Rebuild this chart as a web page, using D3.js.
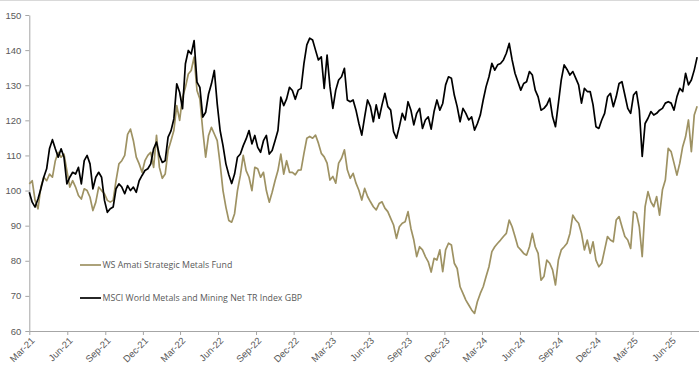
<!DOCTYPE html>
<html>
<head>
<meta charset="utf-8">
<script src="https://cdn.jsdelivr.net/npm/d3@7"></script>
<style>
  body { margin: 0; background: #fff; }
  svg { display: block; }
</style>
</head>
<body>
<svg id="chart" width="699" height="367"></svg>
<script>
// Weekly rebased performance, starting 1 March 2021 (=100)
const firstWeek = "2021-03-01";
const seriesNames = ["WS Amati Strategic Metals Fund", "MSCI World Metals and Mining Net TR Index GBP"];
const seriesColors = ["#9e9263", "#000000"];

const fundValues = [
  101.9, 102.8, 97.2, 94.8, 101, 103.8, 102.8, 104.7, 103.8, 108.5,
  110.9, 109.5, 110.4, 105.7, 101, 102.8, 101, 98.6, 97.6, 100.5,
  100, 98.1, 94.3, 96.7, 101, 100, 99.1, 97.2, 96.7, 97.2,
  102.8, 107.6, 108.5, 110, 116, 117.5, 114.2, 109.5, 107.6, 105.2,
  108.5, 110, 110.9, 106.6, 115.7, 106.6, 103.5, 104.7, 111.4, 114.2,
  117.1, 124.2, 120, 126.6, 129.4, 133.2, 134.2, 138, 128.5, 126.1,
  117.1, 109.5, 115.7, 118, 116.1, 114.2, 107.6, 100, 95.3, 91.5,
  91, 93.4, 100, 104.3, 110, 105.7, 103.8, 100, 106.6, 106.2,
  103.8, 105.2, 100, 96.7, 99.5, 102.8, 105.7, 110.4, 104.7, 108.5,
  105.2, 105.2, 104.5, 105.8, 105.9, 110.6, 114.9, 115.4, 114.9, 115.8,
  113.5, 110.6, 109.6, 107.8, 103, 104, 102.1, 107.8, 109.2, 111.6,
  105.9, 103.5, 104.9, 102.1, 100.1, 97.3, 100.6, 98.3, 96.8, 95.4,
  94.5, 96.3, 96.8, 95, 94, 92.1, 90.2, 86.4, 89.7, 90.7,
  91.1, 94, 89.2, 85.9, 81.2, 84, 83.1, 81.2, 79.7, 76.8,
  80.7, 80.2, 83.1, 76.9, 83.1, 85, 84.5, 79.3, 77.8, 72.6,
  70.7, 68.8, 67.4, 66, 65, 68.4, 70.7, 72.6, 75.5, 78.3,
  82.6, 84, 85, 85.9, 86.9, 87.8, 91.6, 89.7, 86.9, 84,
  83.1, 82.1, 81.6, 84, 87.8, 84, 82.1, 74.5, 75.5, 80.2,
  79.3, 77.4, 73.1, 80.2, 83.1, 84, 85, 87.8, 93, 91.6,
  90.7, 87.8, 83.1, 85.9, 82.1, 85.4, 80.2, 78.3, 79.3, 83.1,
  86.9, 85.9, 85.4, 91.6, 92.6, 89.7, 86.9, 85.9, 83.5, 94,
  93.5, 89.7, 81.2, 95.4, 99.7, 96.8, 95.4, 98.3, 93, 100.2,
  103, 112, 111.1, 107.8, 104.4, 107.8, 112.5, 115.3, 120.1, 111.1,
  121.5, 124
];

const indexValues = [
  99.5, 96.7, 95.3, 97.6, 100.5, 103.8, 106.2, 112, 114.5, 111.9,
  109.5, 111.9, 109.5, 101.9, 103.8, 105.2, 104.7, 106.6, 101.9, 108.5,
  110, 107.6, 100.5, 103.8, 105.2, 103.8, 97.2, 93.8, 94.8, 95.3,
  100.5, 101.9, 101, 99.1, 101.4, 100, 101, 99.5, 102.8, 104.3,
  105.7, 106.2, 107.6, 111.9, 113.8, 110, 108, 108.5, 115.2, 117,
  120.4, 130.4, 128, 123.3, 136.1, 139.9, 138.9, 142.7, 130.9, 129.4,
  120.9, 122.3, 127.5, 130.4, 134.2, 124.7, 117.1, 112.8, 107.6, 104.5,
  102, 104.7, 109.5, 110.4, 112.8, 114.7, 117.1, 113.3, 115.7, 112.3,
  110.9, 114.2, 115.7, 110.4, 111.4, 114.2, 117.1, 126.6, 124.2, 126.1,
  129.4, 128.5, 126, 128.6, 129.1, 136.2, 141.5, 143.4, 142.9, 140,
  137.2, 138.1, 129.1, 138.6, 129.6, 123.4, 128.6, 131.5, 132.4, 134.8,
  125.8, 125.3, 125.8, 122.9, 119.1, 115.8, 121, 125.8, 123.9, 119.6,
  124.4, 120.6, 124.4, 127.7, 123.9, 122.9, 116.8, 114.9, 118.2, 122,
  120.1, 125.3, 122.9, 118.7, 122, 123.4, 117.7, 120.1, 121, 117.5,
  122.5, 125.8, 122.9, 124.8, 130.1, 132.4, 132, 127.2, 123.9, 119.6,
  123.4, 122, 120.1, 121, 117.2, 119.1, 121.5, 125.8, 129.6, 132.4,
  136.2, 134.3, 135.8, 136.2, 137.2, 139.1, 141.9, 137.2, 133.4, 131,
  128.6, 130.5, 131, 133.9, 132.9, 128.6, 126.7, 122.9, 123.4, 124.4,
  126.3, 121, 118.2, 124.8, 131.5, 135.8, 134.5, 132.9, 133.9, 132,
  130.1, 124.9, 129.1, 128.2, 128.2, 124.4, 118.2, 117.7, 120.1, 122,
  126.7, 127.7, 123.9, 126.7, 130.5, 131, 127.2, 123.4, 122, 127.2,
  128.2, 122.9, 109.7, 119.1, 120.6, 122.5, 121.5, 122, 122.9, 123.4,
  124.9, 125.3, 124.9, 122.9, 126.7, 129.1, 128.2, 133.4, 130.1, 131.5,
  134.3, 138
];

const yTicks = [60, 70, 80, 90, 100, 110, 120, 130, 140, 150];
const xTickLabels = ["Mar-21", "Jun-21", "Sep-21", "Dec-21", "Mar-22", "Jun-22", "Sep-22", "Dec-22",
  "Mar-23", "Jun-23", "Sep-23", "Dec-23", "Mar-24", "Jun-24", "Sep-24", "Dec-24", "Mar-25", "Jun-25"];

const W = 699, H = 367;
const svg = d3.select("#chart");

const parseTick = d3.timeParse("%b-%y");
const start = d3.timeParse("%Y-%m-%d")(firstWeek);
const weekDate = i => d3.timeDay.offset(start, 7 * i);

const x = d3.scaleTime()
  .domain([parseTick("Mar-21"), parseTick("Sep-25")])
  .range([29.3, 708.7]);
const y = d3.scaleLinear().domain([60, 150]).range([331, 15]);

// thin frame line along the top
svg.append("rect").attr("x", 0).attr("y", 0).attr("width", W).attr("height", 1).attr("fill", "#d9d9d9");

const axisColor = "#a6a6a6";
const labelColor = "#595959";
const axisFont = "'Liberation Sans', Arial, sans-serif";

// y axis
const gy = svg.append("g")
  .attr("transform", "translate(29.3,0)")
  .call(d3.axisLeft(y).tickValues(yTicks).tickSize(4).tickSizeOuter(0).tickPadding(4));
gy.select(".domain").attr("stroke", axisColor);
gy.selectAll(".tick line").attr("stroke", axisColor);
gy.selectAll(".tick text").attr("fill", labelColor).style("font-family", axisFont).style("font-size", "9.5px");

// x axis
const gx = svg.append("g")
  .attr("transform", "translate(0,331)")
  .call(d3.axisBottom(x).tickValues(xTickLabels.map(parseTick)).tickFormat(d3.timeFormat("%b-%y"))
    .tickSize(4).tickSizeOuter(0));
gx.select(".domain").attr("stroke", axisColor);
gx.selectAll(".tick line").attr("stroke", axisColor);
gx.selectAll(".tick text")
  .attr("fill", labelColor)
  .style("font-family", axisFont).style("font-size", "9.5px")
  .attr("text-anchor", "end")
  .attr("x", 0).attr("y", 0).attr("dy", "0.35em")
  .attr("transform", "translate(3,8) rotate(-45)");

// series lines
const line = d3.line().x((d, i) => x(weekDate(i))).y(d => y(d));
const seriesValues = [fundValues, indexValues];
seriesValues.forEach((vals, k) => {
  svg.append("path")
    .datum(vals)
    .attr("fill", "none")
    .attr("stroke", seriesColors[k])
    .attr("stroke-width", 1.7)
    .attr("stroke-linejoin", "round")
    .attr("d", line);
});

// legend
const legendY = [265, 298];
seriesNames.forEach((name, k) => {
  const g = svg.append("g").attr("transform", `translate(80,${legendY[k]})`);
  g.append("line").attr("x1", 0).attr("x2", 21).attr("y1", 0).attr("y2", 0)
    .attr("stroke", seriesColors[k]).attr("stroke-width", 1.7);
  g.append("text").attr("x", 22.5).attr("y", 0).attr("dy", "0.35em")
    .attr("fill", labelColor)
    .style("font-family", "'Open Sans', sans-serif").style("font-size", "8.8px")
    .text(name);
});
</script>
</body>
</html>
